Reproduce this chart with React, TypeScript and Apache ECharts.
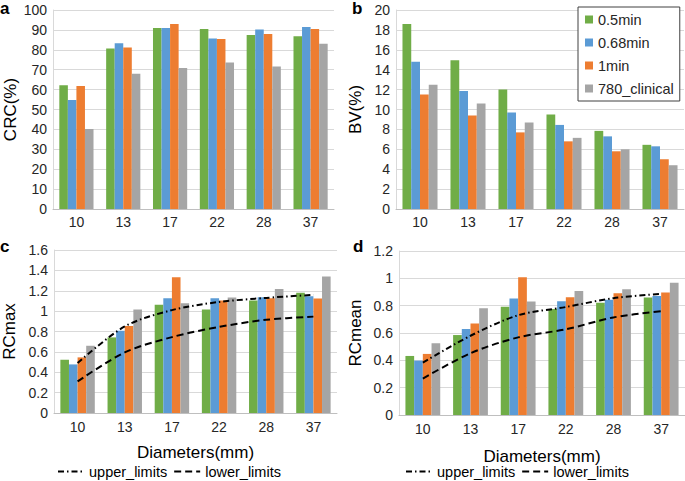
import React, { useEffect, useRef } from "react";
import * as echarts from "echarts";

const categories = ["10", "13", "17", "22", "28", "37"];
const seriesNames = ["0.5min", "0.68min", "1min", "780_clinical"];
const colors = ["#70ad47", "#5b9bd5", "#ed7d31", "#a5a5a5"];

const crc05 = [62.2, 80.7, 91.0, 90.5, 87.4, 86.8];
const crc068 = [54.8, 83.3, 91.0, 85.7, 90.2, 91.4];
const crc1 = [61.8, 81.2, 93.0, 85.4, 88.0, 90.4];
const crcClin = [40.2, 68.0, 70.8, 73.6, 71.6, 83.1];

const bv05 = [18.6, 14.95, 12.0, 9.5, 7.85, 6.45];
const bv068 = [14.8, 11.85, 9.7, 8.45, 7.3, 6.3];
const bv1 = [11.5, 9.4, 7.7, 6.8, 5.8, 5.0];
const bvClin = [12.5, 10.6, 8.7, 7.15, 6.0, 4.4];

const rcmax05 = [0.523, 0.742, 1.062, 1.016, 1.104, 1.18];
const rcmax068 = [0.477, 0.807, 1.127, 1.127, 1.137, 1.147];
const rcmax1 = [0.546, 0.853, 1.333, 1.104, 1.127, 1.124];
const rcmaxClin = [0.66, 1.016, 1.078, 1.134, 1.216, 1.34];
const rcmaxUpper = [0.49, 0.85, 1.01, 1.09, 1.13, 1.16];
const rcmaxLower = [0.31, 0.595, 0.745, 0.845, 0.915, 0.946];

const rcmean05 = [0.432, 0.585, 0.792, 0.775, 0.821, 0.86];
const rcmean068 = [0.398, 0.629, 0.853, 0.833, 0.843, 0.87];
const rcmean1 = [0.447, 0.67, 1.008, 0.862, 0.891, 0.896];
const rcmeanClin = [0.525, 0.782, 0.831, 0.908, 0.92, 0.967];
const rcmeanUpper = [0.383, 0.58, 0.73, 0.79, 0.855, 0.886];
const rcmeanLower = [0.267, 0.452, 0.568, 0.627, 0.714, 0.76];

const FONT = "Liberation Sans, Arial, sans-serif";

export default function App() {
  const ref = useRef<HTMLDivElement>(null);
  useEffect(() => {
    if (!ref.current) return;
    const chart = echarts.init(ref.current, undefined, { renderer: "svg" });

    const grids = [
      { left: 53, top: 10, width: 281, height: 199 },
      { left: 396, top: 10, width: 288, height: 199 },
      { left: 53, top: 250, width: 284, height: 163 },
      { left: 399, top: 251, width: 286, height: 164 },
    ];
    const yCfg = [
      { min: 0, max: 100, interval: 10, name: "CRC(%)", gap: 34 },
      { min: 0, max: 20, interval: 2, name: "BV(%)", gap: 32 },
      { min: 0, max: 1.6, interval: 0.2, name: "RCmax", gap: 36 },
      { min: 0, max: 1.2, interval: 0.2, name: "RCmean", gap: 35 },
    ];
    const barData = [
      [crc05, crc068, crc1, crcClin],
      [bv05, bv068, bv1, bvClin],
      [rcmax05, rcmax068, rcmax1, rcmaxClin],
      [rcmean05, rcmean068, rcmean1, rcmeanClin],
    ];
    const lineData = [
      null,
      null,
      [rcmaxUpper, rcmaxLower],
      [rcmeanUpper, rcmeanLower],
    ];

    const xAxis = grids.map((_, i) => ({
      type: "category",
      gridIndex: i,
      data: categories,
      axisLine: { show: true, lineStyle: { color: "#bfbfbf", width: 1 } },
      axisTick: { show: false },
      axisLabel: { color: "#262626", fontSize: 14, fontFamily: FONT, margin: i < 2 ? 6 : 7 },
      name: i >= 2 ? "Diameters(mm)" : "",
      nameLocation: "middle",
      nameGap: i === 2 ? 31 : 33,
      nameTextStyle: { color: "#000", fontSize: 17, fontFamily: FONT },
    }));

    const yAxis = yCfg.map((c, i) => ({
      type: "value",
      gridIndex: i,
      min: c.min,
      max: c.max,
      interval: c.interval,
      axisLine: { show: true, lineStyle: { color: "#d9d9d9", width: 1 } },
      axisTick: { show: false },
      axisLabel: { color: "#262626", fontSize: 14, fontFamily: FONT, margin: 6 },
      splitLine: { show: true, lineStyle: { color: "#d9d9d9", width: 1 } },
      name: c.name,
      nameLocation: "middle",
      nameGap: c.gap,
      nameTextStyle: { color: "#000", fontSize: 17, fontFamily: FONT },
    }));

    const series: any[] = [];
    barData.forEach((group, gi) => {
      group.forEach((vals, si) => {
        series.push({
          type: "bar",
          name: seriesNames[si],
          xAxisIndex: gi,
          yAxisIndex: gi,
          data: vals,
          barGap: "0%",
          barCategoryGap: "27%",
          itemStyle: { color: colors[si] },
        });
      });
    });
    lineData.forEach((pair, gi) => {
      if (!pair) return;
      series.push({
        type: "line",
        name: "upper_limits",
        xAxisIndex: gi,
        yAxisIndex: gi,
        data: pair[0],
        symbol: "none",
        smooth: 0.3,
        z: 5,
        itemStyle: { color: "#000" },
        lineStyle: { color: "#000", width: 2, type: [6, 3, 1.5, 3] },
      });
      series.push({
        type: "line",
        name: "lower_limits",
        xAxisIndex: gi,
        yAxisIndex: gi,
        data: pair[1],
        symbol: "none",
        smooth: 0.3,
        z: 5,
        itemStyle: { color: "#000" },
        lineStyle: { color: "#000", width: 2, type: [7, 4] },
      });
    });

    const lineLegend = (left: number) => ({
      data: ["upper_limits", "lower_limits"],
      left,
      top: 464,
      orient: "horizontal",
      itemWidth: 26,
      itemHeight: 10,
      itemGap: 6,
      padding: 0,
      itemStyle: { color: "rgba(0,0,0,0)", borderColor: "rgba(0,0,0,0)", borderWidth: 0 },
      textStyle: { color: "#000", fontSize: 14.5, fontFamily: FONT },
      selectedMode: false,
    });

    const letters = [
      { t: "a", x: 0, y: 9 },
      { t: "b", x: 352, y: 9 },
      { t: "c", x: 0, y: 247 },
      { t: "d", x: 353, y: 247 },
    ];

    chart.setOption({
      animation: false,
      backgroundColor: "#fff",
      grid: grids,
      xAxis,
      yAxis,
      series,
      legend: [
        {
          data: seriesNames,
          orient: "vertical",
          left: 578,
          top: 7,
          icon: "rect",
          itemWidth: 8,
          itemHeight: 8,
          itemGap: 8,
          padding: [5, 6, 5, 7],
          backgroundColor: "#fff",
          borderColor: "#404040",
          borderWidth: 1,
          textStyle: { color: "#262626", fontSize: 14.5, lineHeight: 15, fontFamily: FONT },
          selectedMode: false,
        },
        lineLegend(57),
        lineLegend(405),
      ],
      graphic: letters.map((l) => ({
        type: "text",
        left: l.x,
        top: l.y - 9,
        style: {
          text: l.t,
          fill: "#000",
          fontSize: 17,
          fontWeight: "bold",
          fontFamily: FONT,
        },
      })),
    });

    return () => chart.dispose();
  }, []);

  return (
    <div
      ref={ref}
      style={{ position: "fixed", left: 0, top: 0, width: 685, height: 481, background: "#fff" }}
    />
  );
}
